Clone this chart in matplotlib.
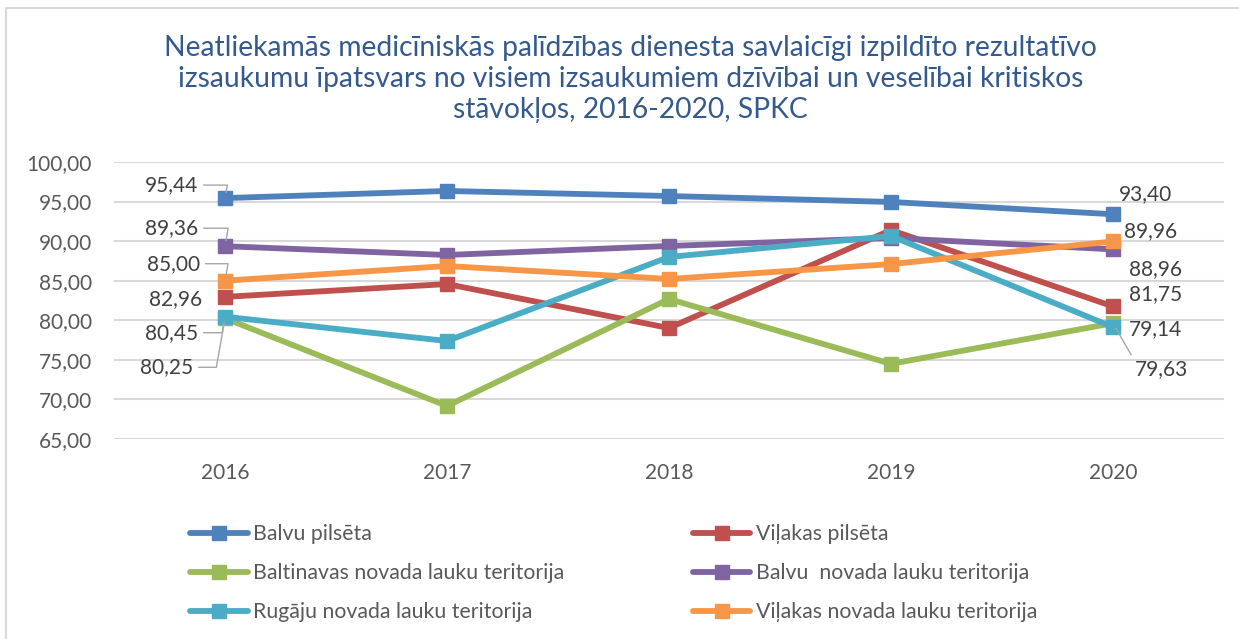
import matplotlib.pyplot as plt
from matplotlib.patches import Rectangle

plt.rcParams['font.family'] = ['Lato', 'DejaVu Sans']

years = ["2016", "2017", "2018", "2019", "2020"]

balvu_pilseta = [95.44, 96.34, 95.70, 94.95, 93.40]
vilakas_pilseta = [82.96, 84.58, 79.02, 91.40, 81.75]
baltinavas = [80.25, 69.17, 82.69, 74.50, 79.63]
balvu_novada = [89.36, 88.25, 89.39, 90.40, 88.96]
rugaju = [80.45, 77.38, 88.00, 90.65, 79.14]
vilakas_novada = [85.00, 86.86, 85.22, 87.10, 89.96]

names = ["Balvu pilsēta", "Viļakas pilsēta", "Baltinavas novada lauku teritorija",
         "Balvu  novada lauku teritorija", "Rugāju novada lauku teritorija",
         "Viļakas novada lauku teritorija"]
series = [balvu_pilseta, vilakas_pilseta, baltinavas, balvu_novada, rugaju, vilakas_novada]
colors = ["#4F81BD", "#C0504D", "#9BBB59", "#8064A2", "#4BACC6", "#F79646"]

# label offsets in pixels (first point, last point), and whether to draw a leader
first_off = [(-27, 13, True), (-23, -2, False), (-32, -49, True),
             (-27, 18, True), (-27, -16, True), (-25, 17, True)]
last_off = [(33, 20, False), (43, 12, False), (49, -46, True),
            (43, -20, False), (43, -2, False), (38, 10, False)]

fig = plt.figure(figsize=(12.39, 6.39), dpi=100)
ax = fig.add_axes([114 / 1239, 1 - 439 / 639, 1110 / 1239, 277 / 639])

x = list(range(len(years)))
handles = {}
for name, vals, c in zip(names, series, colors):
    ln, = ax.plot(x, vals, color=c, lw=4.2, marker='s', markersize=10,
                  solid_capstyle='round', zorder=3)
    handles[name] = ln

label_color = '#404040'
leader = dict(arrowstyle='-', color='#A6A6A6', lw=1.0, shrinkA=2, shrinkB=4)
for vals, (dx, dy, ld) in zip(series, first_off):
    ap = dict(leader, connectionstyle='angle,angleA=0,angleB=80,rad=0', relpos=(1, 0.5)) if ld else None
    ax.annotate(f"{vals[0]:.2f}".replace('.', ','), xy=(0, vals[0]), xytext=(dx, dy),
                textcoords='offset pixels', ha='right', va='center', fontsize=15,
                color=label_color, arrowprops=ap, zorder=4)
for vals, (dx, dy, ld) in zip(series, last_off):
    ap = dict(leader, relpos=(0, 0.85)) if ld else None
    ax.annotate(f"{vals[-1]:.2f}".replace('.', ','), xy=(4, vals[-1]), xytext=(dx, dy),
                textcoords='offset pixels', ha='center', va='center', fontsize=15,
                color=label_color, arrowprops=ap, zorder=4)

ax.set_xlim(-0.5, 4.5)
ax.set_ylim(65, 100)
ax.set_yticks([65, 70, 75, 80, 85, 90, 95, 100])
ax.set_yticklabels([f"{v:.2f}".replace('.', ',') for v in ax.get_yticks()])
ax.set_xticks(x)
ax.set_xticklabels(years)
ax.tick_params(axis='both', length=0, labelsize=15, labelcolor='#595959')
ax.tick_params(axis='y', pad=16)
ax.tick_params(axis='x', pad=17)
ax.grid(axis='y', color='#D9D9D9', lw=1.5)
ax.set_axisbelow(True)
for s in ax.spines.values():
    s.set_visible(False)

fig.suptitle("Neatliekamās medicīniskās palīdzības dienesta savlaicīgi izpildīto rezultatīvo\n"
             "izsaukumu īpatsvars no visiem izsaukumiem dzīvībai un veselībai kritiskos\n"
             "stāvokļos, 2016-2020, SPKC",
             x=0.509, y=0.946, fontsize=20.3, color='#34598C', linespacing=1.25)

order = ["Balvu pilsēta", "Baltinavas novada lauku teritorija", "Rugāju novada lauku teritorija",
         "Viļakas pilsēta", "Balvu  novada lauku teritorija", "Viļakas novada lauku teritorija"]
leg = fig.legend([handles[n] for n in order], order, ncol=2, loc='upper left',
                 bbox_to_anchor=(171 / 1239, 1 - 505 / 639), frameon=False, fontsize=15.3,
                 handlelength=2.7, handletextpad=0.25, labelspacing=0.9, columnspacing=6.07)
for t in leg.get_texts():
    t.set_color('#595959')

fig.patches.append(Rectangle((6 / 1239, -0.1), 1.2, 1.1 - 8 / 639, transform=fig.transFigure,
                             fill=False, edgecolor='#D9D9D9', lw=1.5))

fig.savefig("out.png", dpi=100, facecolor='white')
